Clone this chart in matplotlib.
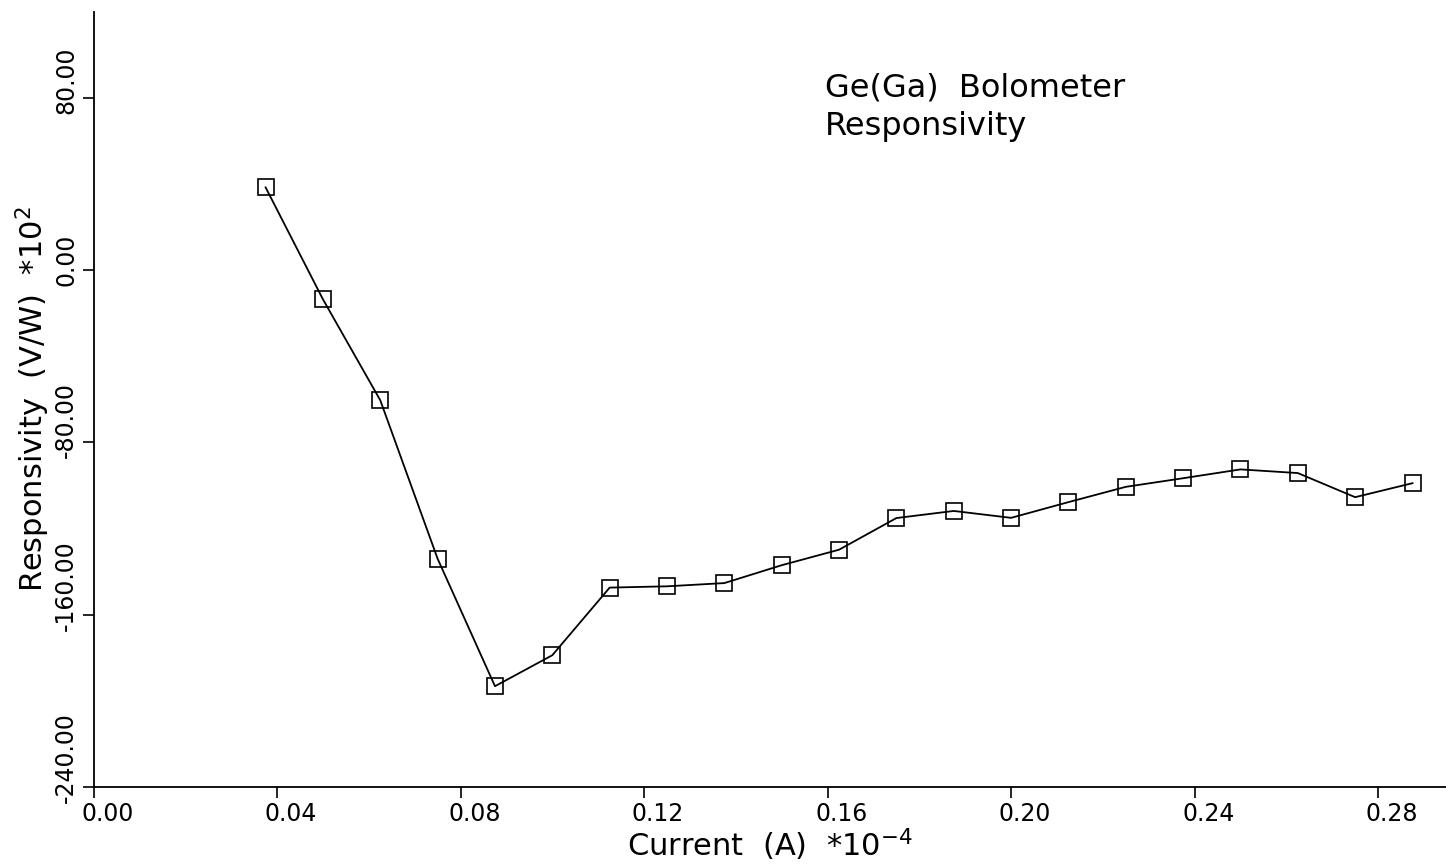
import numpy as np
import matplotlib
matplotlib.use("Agg")
import matplotlib.pyplot as plt
import matplotlib.transforms as mtransforms

# bias current (A * 1e-4) and responsivity (V/W * 1e2)
current = [0.0375, 0.0500, 0.0625, 0.0750, 0.0875, 0.1000, 0.1125,
           0.1250, 0.1375, 0.1500, 0.1625, 0.1750, 0.1875, 0.2000,
           0.2125, 0.2250, 0.2375, 0.2500, 0.2625, 0.2750, 0.2875]
responsivity = [38.5, -13.5, -60.4, -134.0, -193.2, -178.8, -147.4,
                -146.8, -145.3, -137.0, -129.8, -115.1, -111.8, -115.0,
                -107.7, -100.6, -96.6, -92.5, -94.2, -105.4, -98.9]

x_ticks = [0.00, 0.04, 0.08, 0.12, 0.16, 0.20, 0.24, 0.28]
y_ticks = [-240, -160, -80, 0, 80]

fig = plt.figure(figsize=(14.46, 8.67), dpi=100)
ax = fig.add_axes([0.0647, 0.0923, 0.9353, 0.894])

ax.plot(current, responsivity, color='black', linewidth=1.3,
        marker='s', markersize=11, markerfacecolor='none',
        markeredgecolor='black', markeredgewidth=1.2)

ax.set_xlim(0, 0.2948)
ax.set_ylim(-240, 120)

ax.tick_params(direction='out', length=8, width=1.2, pad=3)
ax.spines['top'].set_visible(False)
ax.spines['right'].set_visible(False)
ax.spines['left'].set_linewidth(1.3)
ax.spines['bottom'].set_linewidth(1.3)

ax.set_xticks(x_ticks)
ax.set_xticklabels(['%.2f' % v for v in x_ticks], fontsize=17)
ax.set_yticks(y_ticks)
ax.set_yticklabels(['%.2f' % v for v in y_ticks], fontsize=17,
                   rotation=90, va='bottom')

# plotter style: labels sit off-centre from their ticks
x_shift = mtransforms.ScaledTranslation(14 / 100, 0, fig.dpi_scale_trans)
y_shift = mtransforms.ScaledTranslation(0, -16 / 100, fig.dpi_scale_trans)
for lab in ax.get_xticklabels():
    lab.set_transform(lab.get_transform() + x_shift)
for lab in ax.get_yticklabels():
    lab.set_transform(lab.get_transform() + y_shift)

ax.set_xlabel('Current  (A)  *10$^{-4}$', fontsize=22, labelpad=0)
ax.set_ylabel('Responsivity  (V/W)  *10$^{2}$', fontsize=22, labelpad=2)

ax.text(0.541, 0.922, 'Ge(Ga)  Bolometer\nResponsivity',
        transform=ax.transAxes, fontsize=23, ha='left', va='top',
        linespacing=1.3)

fig.savefig('out.png', dpi=100)
